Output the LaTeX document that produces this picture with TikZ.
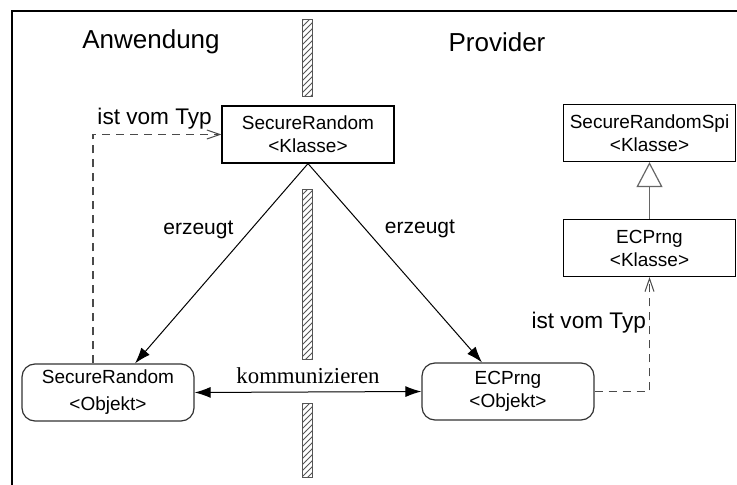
\documentclass[tikz,border=0pt]{standalone}
\usepackage{fontspec}
\setmainfont{Liberation Sans}
\newfontfamily\kommfont{Liberation Serif}
\usepackage{tikz}
\usetikzlibrary{positioning,arrows.meta,patterns}
\definecolor{dashgray}{HTML}{4A4A4A}
\definecolor{hatchgray}{HTML}{555555}

\begin{document}
\begin{tikzpicture}[x=0.5pt, y=-0.5pt,
  klasse/.style={rectangle, draw, line width=0.6pt, minimum width=86pt, minimum height=28.5pt,
    inner sep=0pt, align=center, font=\fontsize{9.5}{11.5}\selectfont},
  objekt/.style={klasse, draw=black!80, rounded corners=6.5pt},
  side/.style={font=\fontsize{13}{15}\selectfont},
  edgelabel/.style={font=\fontsize{11.3}{13}\selectfont, inner sep=1.5pt},
  erzlabel/.style={edgelabel, font=\fontsize{10.5}{12}\selectfont},
  erz/.style={line width=0.5pt, -{Latex[length=8pt, width=5.5pt]}},
  komm/.style={line width=0.5pt, {Latex[length=8pt, width=5.5pt]}-{Latex[length=8pt, width=5.5pt]}},
  typ/.style={line width=0.6pt, draw=dashgray, dash pattern=on 4pt off 3pt,
    -{Straight Barb[length=6.5pt, width=4.5pt, line width=0.5pt]}},
  gen/.style={line width=0.7pt, draw=black!60,
    -{Triangle[open, length=12.5pt, width=13pt, line width=0.6pt, fill=white]}}
]
  \useasboundingbox (0,0) rectangle (737,485);
  \draw[line width=1.3pt] (737,11) -- (12,11) -- (12,485);

  % Trennwand
  \foreach \ya/\yb in {20/97, 190/360, 403/477}
    \draw[line width=0.5pt, draw=hatchgray, pattern=north east lines, pattern color=hatchgray]
      (302,\ya) rectangle (312,\yb);

  \node[side] (anw)  at (151,42) {Anwendung};
  \node[side] (prov) at (497,42) {Provider};

  \node[klasse] (srk) at (308,134.5) {SecureRandom\\<Klasse>};
  \node[klasse] (spi) at (649.5,133) {SecureRandomSpi\\<Klasse>};
  \node[klasse] (eck) at (649.5,248) {ECPrng\\<Klasse>};
  \node[objekt] (sro) at (108,392.5) {SecureRandom\\[2pt]<Objekt>};
  \node[objekt] (eco) at (508,391.5) {ECPrng\\<Objekt>};

  \draw[erz] (srk.south) -- node[erzlabel, pos=0.33, left=7pt] {erzeugt} ([xshift=13.5pt]sro.north);
  \draw[erz] (srk.south) -- node[erzlabel, pos=0.33, right=8pt] {erzeugt} ([xshift=-13pt]eco.north);
  \draw[komm] (sro.east) -- node[above=4pt, inner sep=0pt, font=\kommfont\fontsize{11.4}{13}\selectfont] {kommunizieren} (eco.west);

  \draw[typ] ([xshift=-7.5pt]sro.north) |- node[edgelabel, pos=0.74, above=1pt] {ist vom Typ} (srk.west);
  \draw[typ] (eco.east) -| node[edgelabel, pos=0.8, left=0pt] {ist vom Typ} (eck.south);
  \draw[gen] (eck.north) -- (spi.south);
\end{tikzpicture}
\end{document}
